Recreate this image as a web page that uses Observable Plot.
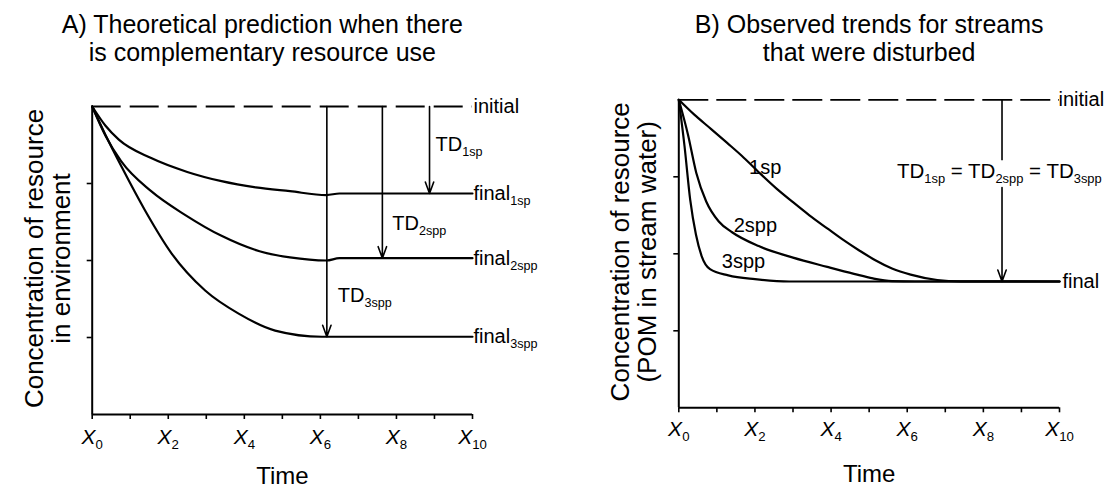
<!DOCTYPE html>
<html><head><meta charset="utf-8">
<script src="https://cdn.jsdelivr.net/npm/d3@7"></script>
<script src="https://cdn.jsdelivr.net/npm/@observablehq/plot@0.6"></script>
<style>
body{margin:0;background:#fff;}
#wrap{display:flex;width:1107px;height:488px;overflow:hidden;}
svg{overflow:visible;}
</style></head><body><div id="wrap"></div>
<script>
// ---------- shared axis data ----------
const xTicks = [0,1,2,3,4,5,6,7,8,9,10];
const xTickLabels = [0,2,4,6,8,10];
const yTicks = [1,2,3];
const initialLevel = 4;

// ---------- Panel A: theoretical prediction ----------
const titleA = "A) Theoretical prediction when there\nis complementary resource use";
const yLabelA = "Concentration of resource\nin environment";
const xLabel = "Time";

const aTime1sp = [0,0.35,0.7,1.55,2.5,3.4,4.3,5.2,6.16,6.5,10];
const aConc1sp = [4,3.75,3.57,3.33,3.15,3.03,2.95,2.9,2.85,2.87,2.87];
const aTime2spp = [0,0.35,0.76,1.55,2.45,3.4,4.4,5.2,6.16,6.5,10];
const aConc2spp = [4,3.62,3.29,2.9,2.59,2.32,2.12,2.04,2.0,2.03,2.03];
const aTime3spp = [0,0.35,0.78,1.39,2.09,2.97,3.85,4.81,6.04,6.17,10];
const aConc3spp = [4,3.63,3.21,2.65,2.09,1.61,1.31,1.09,1.01,1.01,1.01];

const aFinalNames = ["final{1sp}","final{2spp}","final{3spp}"];
const aFinalLevels = [2.87, 2.03, 1.01];
const aTDNames = ["TD{1sp}","TD{2spp}","TD{3spp}"];
const aTDTime = [8.87, 7.63, 6.17];
const aTDLabelTime = [9.03, 7.89, 6.46];
const aTDLabelConc = [3.42, 2.39, 1.46];

// ---------- Panel B: observed trends ----------
const titleB = "B) Observed trends for streams\nthat were disturbed";
const yLabelB = "Concentration of resource\n(POM in stream water)";

const bTime1sp = [0,0.4,0.85,1.27,1.66,2.1,2.56,3.0,3.43,3.9,4.32,4.75,5.15,5.6,6.09,6.79,7.4,10];
const bConc1sp = [4,3.81,3.62,3.44,3.27,3.06,2.85,2.67,2.5,2.33,2.18,2.04,1.92,1.81,1.73,1.66,1.642,1.64];
const bTime2spp = [0,0.24,0.46,0.72,1.05,1.4,2.1,3.0,3.9,4.6,5.1,5.6,6.2,10];
const bConc2spp = [4,3.55,3.05,2.68,2.42,2.28,2.1,1.95,1.83,1.74,1.68,1.645,1.64,1.64];
const bTime3spp = [0,0.15,0.3,0.45,0.6,0.82,1.3,2.0,2.9,10];
const bConc3spp = [4,3.4,2.7,2.25,1.97,1.8,1.72,1.67,1.64,1.64];

const bSeriesNames = ["1sp","2spp","3spp"];
const bSeriesLabelTime = [2.27, 2.01, 1.70];
const bSeriesLabelConc = [3.04, 2.28, 1.81];
const bFinalLevel = 1.64;
const bTDName = "TD{1sp} = TD{2spp} = TD{3spp}";
const bTDTime = 8.49;
const bTDLabelTime = 8.42;
const bTDLabelConc = 2.99;
const bTDGap = [3.21, 2.86];

// ---------- build tables ----------
const toRows = (name, xs, ys) => xs.map((t, i) => ({s: name, t, c: ys[i]}));
const dataA = [
  ...toRows("1sp", aTime1sp, aConc1sp),
  ...toRows("2spp", aTime2spp, aConc2spp),
  ...toRows("3spp", aTime3spp, aConc3spp)
];
const dataB = [
  ...toRows("1sp", bTime1sp, bConc1sp),
  ...toRows("2spp", bTime2spp, bConc2spp),
  ...toRows("3spp", bTime3spp, bConc3spp)
];
const endLabelsA = [{text: "initial", c: initialLevel}, ...aFinalNames.map((n, i) => ({text: n, c: aFinalLevels[i]}))];
const tdArrowsA = aTDTime.map((t, i) => ({t, from: initialLevel, to: aFinalLevels[i]}));
const tdLabelsA = aTDNames.map((n, i) => ({text: n, t: aTDLabelTime[i], c: aTDLabelConc[i]}));
const seriesLabelsB = bSeriesNames.map((n, i) => ({text: n, t: bSeriesLabelTime[i], c: bSeriesLabelConc[i]}));

const FONT = "'Liberation Sans', Arial, Helvetica, sans-serif";

function commonMarks(data, dashes, frame) {
  return [
    Plot.ruleY([initialLevel], {x1: 0, x2: 10, stroke: "#000", strokeWidth: 1.8, strokeDasharray: dashes}),
    Plot.line(data, {x: "t", y: "c", z: "s", curve: "monotone-x", stroke: "#000", strokeWidth: 2.2}),
    Plot.ruleX([0], {y1: 0, y2: initialLevel, stroke: "#000", strokeWidth: 2}),
    Plot.ruleY([0], {x1: 0, x2: 10, stroke: "#000", strokeWidth: 2}),
    Plot.axisX({ticks: xTicks, tickSize: 5, tickFormat: () => "", label: null, strokeWidth: 1.6}),
    Plot.axisY({ticks: yTicks, tickSize: 5, tickFormat: () => "", label: null, strokeWidth: 1.6}),
    Plot.text(xTickLabels, {x: d => d, y: 0, text: d => `X{${d}}`, fontSize: 21, fontStyle: "italic",
      textAnchor: "middle", lineAnchor: "bottom", dy: frame.tickDy}),
    Plot.text([xLabel], {frameAnchor: "bottom", textAnchor: "middle", lineAnchor: "bottom", dy: frame.timeDy, fontSize: 24}),
    Plot.text([frame.title], {frameAnchor: "top", textAnchor: "middle", lineAnchor: "bottom", dy: frame.titleDy, dx: frame.titleDx, fontSize: 25, lineHeight: 28/25}),
    Plot.text([frame.ylabel], {frameAnchor: "left", textAnchor: "middle", rotate: -90, lineAnchor: "bottom", dx: frame.ylabDx, dy: -2, fontSize: 26, lineHeight: 27/26})
  ];
}

const plotA = Plot.plot({
  width: 553, height: 488,
  marginLeft: 91.7, marginRight: 81, marginTop: 106, marginBottom: 74,
  x: {domain: [0, 10]}, y: {domain: [0, 4]},
  style: {fontFamily: FONT, fontSize: "20px", color: "#000", background: "#fff", overflow: "visible"},
  marks: [
    ...commonMarks(dataA, "29,9", {tickDy: 29, timeDy: 69, title: titleA, titleDy: -46, titleDx: -20, ylabel: yLabelA, ylabDx: -22.7}),
    Plot.arrow(tdArrowsA, {x1: "t", x2: "t", y1: "from", y2: "to", stroke: "#000", strokeWidth: 1.6, headAngle: 40, headLength: 11.5}),
    Plot.text(tdLabelsA, {x: "t", y: "c", text: "text", textAnchor: "start", lineAnchor: "bottom", fontSize: 20}),
    Plot.text(endLabelsA, {x: 10, y: "c", text: "text", textAnchor: "start", lineAnchor: "middle", dx: 1, fontSize: 20})
  ]
});

const plotB = Plot.plot({
  width: 554, height: 488,
  marginLeft: 125.3, marginRight: 48, marginTop: 99.3, marginBottom: 80.7,
  x: {domain: [0, 10]}, y: {domain: [0, 4]},
  style: {fontFamily: FONT, fontSize: "20px", color: "#000", background: "#fff", overflow: "visible"},
  marks: [
    ...commonMarks(dataB, "30,8", {tickDy: 28, timeDy: 74, title: titleB, titleDy: -39.3, titleDx: 0, ylabel: yLabelB, ylabDx: -23.3}),
    Plot.ruleX([bTDTime], {y1: initialLevel, y2: bTDGap[0], stroke: "#000", strokeWidth: 1.6}),
    Plot.arrow([bTDTime], {x1: d => d, x2: d => d, y1: bTDGap[1], y2: bFinalLevel, stroke: "#000", strokeWidth: 1.6, headAngle: 40, headLength: 11.5}),
    Plot.text([bTDName], {x: bTDLabelTime, y: bTDLabelConc, textAnchor: "middle", lineAnchor: "bottom", fontSize: 20.5}),
    Plot.text(seriesLabelsB, {x: "t", y: "c", text: "text", textAnchor: "middle", lineAnchor: "bottom", fontSize: 20}),
    Plot.text(["initial"], {x: 10, y: initialLevel, textAnchor: "start", lineAnchor: "middle", dx: -1, fontSize: 20}),
    Plot.text(["final"], {x: 10, y: bFinalLevel, textAnchor: "start", lineAnchor: "middle", dx: 3, fontSize: 20})
  ]
});

// turn {..} into subscript tspans
function subscriptify(svg) {
  const NS = "http://www.w3.org/2000/svg";
  svg.querySelectorAll("text").forEach(t => {
    if (t.children.length) return;
    const s = t.textContent;
    if (!s.includes("{")) return;
    t.textContent = "";
    const parts = s.split(/(\{[^}]*\})/);
    let down = false;
    for (const p of parts) {
      if (!p) continue;
      const ts = document.createElementNS(NS, "tspan");
      if (p.startsWith("{")) {
        ts.textContent = p.slice(1, -1);
        ts.setAttribute("font-size", "0.63em");
        ts.setAttribute("font-style", "normal");
        ts.setAttribute("dy", "5");
        down = true;
      } else {
        ts.textContent = p;
        if (down) { ts.setAttribute("dy", "-5"); down = false; }
      }
      t.appendChild(ts);
    }
  });
}
subscriptify(plotA);
subscriptify(plotB);
const wrap = document.getElementById("wrap");
wrap.appendChild(plotA);
wrap.appendChild(plotB);
</script>
</body></html>
